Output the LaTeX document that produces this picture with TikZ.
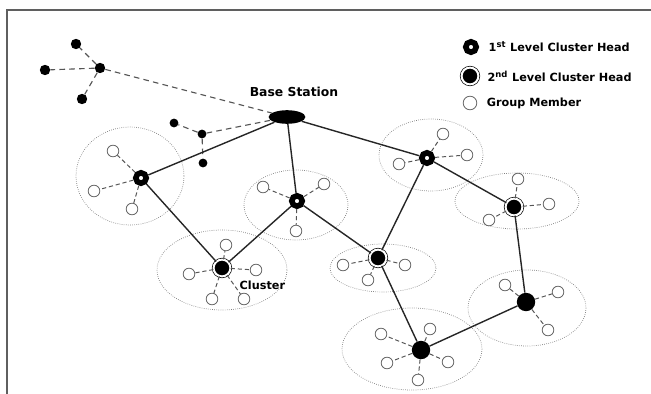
\documentclass[tikz,border=0pt]{standalone}
\usepackage{fontspec}
\setmainfont{DejaVu Sans}
\usetikzlibrary{shapes.geometric, positioning}
\definecolor{ringgray}{RGB}{105,105,105}
\definecolor{linkgray}{RGB}{85,85,85}
\definecolor{framegray}{RGB}{95,95,95}

\begin{document}
\begin{tikzpicture}[
  x=0.025cm, y=-0.025cm,
  font=\bfseries\fontsize{8}{9}\selectfont,
  member/.style={
    circle,
    draw=ringgray,
    fill=white,
    line width=0.6pt,
    minimum size=0.29cm,
    inner sep=0pt,
  },
  headone/.style={
    circle,
    draw=black,
    fill=white,
    line width=0.14cm,
    minimum size=0.26cm,
    inner sep=0pt,
  },
  headtwo/.style={
    circle,
    draw=black,
    fill=black,
    double=white,
    double distance=0.05cm,
    line width=0.5pt,
    minimum size=0.42cm,
    inner sep=0pt,
  },
  headplain/.style={
    circle,
    fill=black,
    minimum size=0.46cm,
    inner sep=0pt,
  },
  leaf/.style={
    circle,
    fill=black,
    minimum size=0.26cm,
    inner sep=0pt,
  },
  station/.style={
    ellipse,
    fill=black,
    minimum width=0.92cm,
    minimum height=0.34cm,
    inner sep=0pt,
  },
  link/.style={draw=black!85, line width=1pt},
  radio/.style={draw=linkgray, line width=0.8pt, dash pattern=on 4pt off 3pt},
  spoke/.style={draw=linkgray, line width=0.7pt, dash pattern=on 3pt off 2pt},
  clusterring/.style={draw=gray, line width=0.5pt, densely dotted},
]
  \useasboundingbox (0,0) rectangle (651,394);

  % frame
  \draw[framegray, line width=1.4pt] (7,394) -- (7,10) -- (651,10);

  % === cluster areas ===
  \draw[clusterring] (130,176) ellipse [x radius=54, y radius=49];
  \draw[clusterring] (296,205) ellipse [x radius=52, y radius=35];
  \draw[clusterring] (222,270) ellipse [x radius=65, y radius=40];
  \draw[clusterring] (383,268) ellipse [x radius=53, y radius=24];
  \draw[clusterring] (431,155) ellipse [x radius=52, y radius=36];
  \draw[clusterring] (517,201) ellipse [x radius=62, y radius=28];
  \draw[clusterring] (527,308) ellipse [x radius=59, y radius=38];
  \draw[clusterring] (412,349) ellipse [x radius=70, y radius=41];

  % base station
  \node[station] (bs) at (287,117) {};
  \node[font=\bfseries\fontsize{8.8}{10}\selectfont] (bs-label) at (294,92) {Base Station};

  % outside groups (top left)
  \node[leaf] (ga) at (100,68) {};
  \node[leaf] (ga-1) at (76,44) {};
  \node[leaf] (ga-2) at (45,70) {};
  \node[leaf] (ga-3) at (82,99) {};
  \node[leaf, minimum size=0.22cm] (gb) at (202,134) {};
  \node[leaf, minimum size=0.22cm] (gb-1) at (174,123) {};
  \node[leaf, minimum size=0.22cm] (gb-2) at (203,163) {};
  \draw[radio] (ga) -- (bs);
  \draw[radio] (gb) -- (bs);
  \draw[radio] (ga) -- (ga-1);
  \draw[radio] (ga) -- (ga-2);
  \draw[radio] (ga) -- (ga-3);
  \draw[radio] (gb) -- (gb-1);
  \draw[radio] (gb) -- (gb-2);

  % === cluster heads ===
  \node[headone] (c1) at (141,178) {};
  \node[headone] (c2) at (297,201) {};
  \node[headtwo] (c3) at (222,268) {};
  \node[headtwo] (c4) at (378,258) {};
  \node[headone] (c5) at (427,158) {};
  \node[headtwo] (c6) at (514,207) {};
  \node[headplain] (c7) at (526,302) {};
  \node[headplain] (c8) at (421,350) {};

  % backbone links
  \draw[link] (bs) -- (c1);
  \draw[link] (bs) -- (c2);
  \draw[link] (bs) -- (c5);
  \draw[link] (c1) -- (c3);
  \draw[link] (c2) -- (c3);
  \draw[link] (c2) -- (c4);
  \draw[link] (c5) -- (c4);
  \draw[link] (c5) -- (c6);
  \draw[link] (c6) -- (c7);
  \draw[link] (c7) -- (c8);
  \draw[link] (c4) -- (c8);

  % === group members ===
  \node[member] (c1-1) at (113,151) {};
  \node[member] (c1-2) at (94,191) {};
  \node[member] (c1-3) at (132,209) {};
  \draw[spoke] (c1) -- (c1-1);
  \draw[spoke] (c1) -- (c1-2);
  \draw[spoke] (c1) -- (c1-3);

  \node[member] (c2-1) at (263,187) {};
  \node[member] (c2-2) at (324,184) {};
  \node[member] (c2-3) at (296,231) {};
  \draw[spoke] (c2) -- (c2-1);
  \draw[spoke] (c2) -- (c2-2);
  \draw[spoke] (c2) -- (c2-3);

  \node[member] (c3-1) at (226,245) {};
  \node[member] (c3-2) at (256,270) {};
  \node[member] (c3-3) at (189,274) {};
  \node[member] (c3-4) at (212,299) {};
  \node[member] (c3-5) at (244,299) {};
  \draw[spoke] (c3) -- (c3-1);
  \draw[spoke] (c3) -- (c3-2);
  \draw[spoke] (c3) -- (c3-3);
  \draw[spoke] (c3) -- (c3-4);
  \draw[spoke] (c3) -- (c3-5);
  \node[anchor=west, inner sep=1pt] (cl) at (238,285) {Cluster};

  \node[member] (c4-1) at (343,265) {};
  \node[member] (c4-2) at (405,265) {};
  \node[member] (c4-3) at (368,280) {};
  \draw[spoke] (c4) -- (c4-1);
  \draw[spoke] (c4) -- (c4-2);
  \draw[spoke] (c4) -- (c4-3);

  \node[member] (c5-1) at (443,134) {};
  \node[member] (c5-2) at (467,155) {};
  \node[member] (c5-3) at (399,164) {};
  \draw[spoke] (c5) -- (c5-1);
  \draw[spoke] (c5) -- (c5-2);
  \draw[spoke] (c5) -- (c5-3);

  \node[member] (c6-1) at (518,179) {};
  \node[member] (c6-2) at (549,204) {};
  \node[member] (c6-3) at (489,220) {};
  \draw[spoke] (c6) -- (c6-1);
  \draw[spoke] (c6) -- (c6-2);
  \draw[spoke] (c6) -- (c6-3);

  \node[member] (c7-1) at (505,285) {};
  \node[member] (c7-2) at (558,292) {};
  \node[member] (c7-3) at (548,330) {};
  \draw[spoke] (c7) -- (c7-1);
  \draw[spoke] (c7) -- (c7-2);
  \draw[spoke] (c7) -- (c7-3);

  \node[member] (c8-1) at (381,334) {};
  \node[member] (c8-2) at (430,329) {};
  \node[member] (c8-3) at (387,363) {};
  \node[member] (c8-4) at (448,362) {};
  \node[member] (c8-5) at (418,380) {};
  \draw[spoke] (c8) -- (c8-1);
  \draw[spoke] (c8) -- (c8-2);
  \draw[spoke] (c8) -- (c8-3);
  \draw[spoke] (c8) -- (c8-4);
  \draw[spoke] (c8) -- (c8-5);

  % === legend ===
  \node[headone] (lg-one) at (471,47) {};
  \node[headtwo] (lg-two) at (470,76) {};
  \node[member, minimum size=0.34cm] (lg-mem) at (470,103) {};
  \node[right=0.2cm of lg-one, inner sep=1pt] (lg-one-t) {1\textsuperscript{st} Level Cluster Head};
  \node[right=0.18cm of lg-two, inner sep=1pt] (lg-two-t) {2\textsuperscript{nd} Level Cluster Head};
  \node[right=0.2cm of lg-mem, inner sep=1pt] (lg-mem-t) {Group Member};

\end{tikzpicture}
\end{document}
